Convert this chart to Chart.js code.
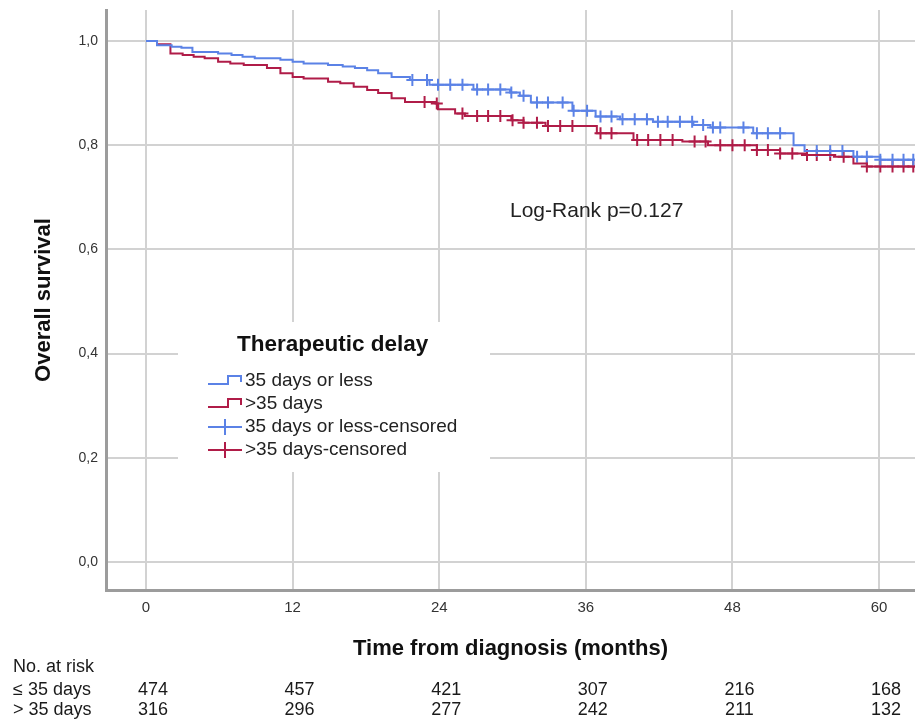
<!DOCTYPE html>
<html>
<head>
<meta charset="utf-8">
<script src="https://cdn.jsdelivr.net/npm/chart.js@4.4.1/dist/chart.umd.min.js"></script>
<style>
  html, body { margin: 0; padding: 0; background: #fff; }
</style>
</head>
<body>
<canvas id="km" width="915" height="721"></canvas>
<script>
// ── Data ──────────────────────────────────────
const xTicks = [0, 12, 24, 36, 48, 60]
const yTicks = [0, 0.2, 0.4, 0.6, 0.8, 1.0]

// 35 days or less: step times (months) and survival after each step
const lowTimes = [0, 0.9, 2.1, 2.9, 3.8, 5.9, 7.0, 7.9, 8.9, 11.0, 12.0, 12.9, 14.9, 16.1, 17.1, 18.1, 19.0, 20.1, 21.6, 23.2, 26.8, 29.8, 30.6, 31.5, 34.9, 36.8, 38.8, 41.5, 44.8, 46.2, 49.7, 53.0, 53.9, 57.9, 60.1, 62.94]
const lowSurv  = [1.000, 0.992, 0.989, 0.987, 0.979, 0.976, 0.973, 0.970, 0.967, 0.964, 0.960, 0.957, 0.954, 0.951, 0.948, 0.944, 0.938, 0.931, 0.925, 0.916, 0.907, 0.901, 0.895, 0.882, 0.866, 0.855, 0.850, 0.845, 0.839, 0.834, 0.823, 0.800, 0.789, 0.778, 0.772, 0.772]
const lowCensored = [21.8, 23.0, 23.9, 24.9, 25.9, 27.1, 28.0, 29.0, 29.9, 30.9, 32.0, 32.9, 34.1, 35.0, 36.1, 37.2, 38.1, 39.0, 40.0, 41.0, 41.9, 42.7, 43.7, 44.7, 45.6, 46.4, 47.0, 48.9, 50.0, 50.9, 51.9, 54.9, 56.0, 57.0, 58.2, 59.0, 60.1, 61.1, 62.0, 62.8]

// >35 days
const highTimes = [0, 0.9, 2.0, 3.0, 3.9, 4.8, 5.9, 6.9, 8.0, 9.9, 11.0, 12.0, 12.9, 14.9, 15.9, 17.0, 18.1, 19.0, 20.1, 21.2, 23.7, 23.9, 25.3, 26.1, 29.9, 30.9, 32.7, 36.9, 39.9, 43.9, 46.0, 50.0, 51.9, 54.1, 56.3, 57.9, 59.0, 62.94]
const highSurv  = [1.000, 0.994, 0.976, 0.973, 0.970, 0.967, 0.960, 0.957, 0.954, 0.948, 0.938, 0.931, 0.928, 0.922, 0.919, 0.912, 0.906, 0.900, 0.890, 0.883, 0.880, 0.869, 0.861, 0.856, 0.848, 0.843, 0.837, 0.823, 0.810, 0.807, 0.800, 0.791, 0.784, 0.781, 0.778, 0.765, 0.759, 0.759]
const highCensored = [22.8, 23.8, 25.9, 27.1, 28.0, 29.0, 30.0, 30.9, 32.0, 32.9, 33.9, 34.9, 37.2, 38.1, 40.2, 41.1, 42.1, 43.1, 44.9, 45.8, 47.0, 48.0, 49.0, 50.0, 50.9, 51.9, 52.9, 54.1, 54.9, 56.0, 57.1, 59.0, 60.1, 61.1, 62.0, 62.8]

// Number at risk
const riskGroups = ['≤ 35 days', '> 35 days']
const riskLow  = [474, 457, 421, 307, 216, 168]
const riskHigh = [316, 296, 277, 242, 211, 132]

// ── Colores / fuentes ─────────────────────────
const BLUE = '#5b82e6'
const RED  = '#b01c48'
const FONT = "Arial, 'Liberation Sans', sans-serif"

function survAt(times, surv, t) {
  let v = surv[0]
  for (let i = 0; i < times.length; i++) if (times[i] <= t) v = surv[i]
  return v
}
const toPoints = (xs, ys) => xs.map((x, i) => ({ x, y: ys[i] }))
const censorPoints = (cs, times, surv) => cs.map(t => ({ x: t, y: survAt(times, surv, t) }))

// ── Plugin: legend box, log-rank, at-risk table
const extras = {
  id: 'extras',
  afterDraw(chart) {
    const { ctx, scales: { x } } = chart
    ctx.save()

    // legend box
    ctx.fillStyle = '#fff'
    ctx.fillRect(178, 322, 312, 150)
    ctx.fillStyle = '#111'
    ctx.font = `bold 22.5px ${FONT}`
    ctx.textBaseline = 'middle'
    ctx.textAlign = 'left'
    ctx.fillText('Therapeutic delay', 237, 345)

    const rows = [381, 404, 427, 450]
    chart.data.datasets.forEach((ds, i) => {
      const y = rows[i]
      ctx.strokeStyle = ds.borderColor
      ctx.lineWidth = 2
      ctx.beginPath()
      if (ds.showLine === false) {
        ctx.moveTo(208, y); ctx.lineTo(242, y)
        ctx.moveTo(225, y - 8); ctx.lineTo(225, y + 8)
      } else {
        ctx.moveTo(208, y + 3); ctx.lineTo(228, y + 3)
        ctx.lineTo(228, y - 5); ctx.lineTo(241, y - 5); ctx.lineTo(241, y + 1)
      }
      ctx.stroke()
      ctx.fillStyle = '#222'
      ctx.font = `19px ${FONT}`
      ctx.fillText(ds.label, 245, y)
    })

    // log-rank
    ctx.font = `21px ${FONT}`
    ctx.fillStyle = '#222'
    ctx.fillText('Log-Rank p=0.127', 510, 211)

    // at-risk table
    ctx.font = `18px ${FONT}`
    ctx.fillStyle = '#1a1a1a'
    ctx.fillText('No. at risk', 13, 667)
    ctx.fillText(riskGroups[0], 13, 690)
    ctx.fillText(riskGroups[1], 13, 710)
    ctx.textAlign = 'center'
    xTicks.forEach((t, i) => {
      const px = x.getPixelForValue(t) + 7
      ctx.fillText(String(riskLow[i]), px, 690)
      ctx.fillText(String(riskHigh[i]), px, 710)
    })
    ctx.restore()
  }
}

new Chart(document.getElementById('km'), {
  type: 'line',
  data: {
    datasets: [
      {
        label: '35 days or less',
        data: toPoints(lowTimes, lowSurv),
        borderColor: BLUE, borderWidth: 2, stepped: 'before',
        pointRadius: 0, fill: false
      },
      {
        label: '>35 days',
        data: toPoints(highTimes, highSurv),
        borderColor: RED, borderWidth: 2, stepped: 'before',
        pointRadius: 0, fill: false
      },
      {
        label: '35 days or less-censored',
        data: censorPoints(lowCensored, lowTimes, lowSurv),
        borderColor: BLUE, showLine: false,
        pointStyle: 'cross', pointRadius: 6, pointBorderWidth: 2, pointBorderColor: BLUE
      },
      {
        label: '>35 days-censored',
        data: censorPoints(highCensored, highTimes, highSurv),
        borderColor: RED, showLine: false,
        pointStyle: 'cross', pointRadius: 6, pointBorderWidth: 2, pointBorderColor: RED
      }
    ]
  },
  options: {
    responsive: false,
    animation: false,
    layout: { autoPadding: false, padding: { top: 10, right: 0, bottom: 59, left: 0 } },
    plugins: { legend: { display: false }, tooltip: { enabled: false } },
    scales: {
      x: {
        type: 'linear',
        min: -3.274, max: 62.94,
        afterBuildTicks: s => { s.ticks = xTicks.map(v => ({ value: v })) },
        afterFit: s => { s.height = 72; s.paddingLeft = 0; s.paddingRight = 0 },
        ticks: { font: { family: FONT, size: 15 }, color: '#333', padding: 9, maxRotation: 0, autoSkip: false },
        grid: { color: '#d2d2d2', lineWidth: 2, drawTicks: false },
        border: { color: '#9c9c9c', width: 3 },
        title: {
          display: true, text: 'Time from diagnosis (months)', color: '#111',
          font: { family: FONT, size: 22, weight: 'bold' }, padding: { top: 0, bottom: 0 }
        }
      },
      y: {
        min: -0.0537, max: 1.0595,
        afterBuildTicks: s => { s.ticks = yTicks.map(v => ({ value: v })) },
        afterFit: s => { s.width = 106; s.paddingTop = 0; s.paddingBottom = 0 },
        ticks: {
          font: { family: FONT, size: 14 }, color: '#333', padding: 8,
          callback: v => v.toFixed(1).replace('.', ',')
        },
        grid: { color: '#d2d2d2', lineWidth: 2, drawTicks: false },
        border: { color: '#9c9c9c', width: 3 },
        title: {
          display: true, text: 'Overall survival', color: '#111',
          font: { family: FONT, size: 22, weight: 'bold' }, padding: { top: 31, bottom: 0 }
        }
      }
    }
  },
  plugins: [extras]
})
</script>
</body>
</html>
